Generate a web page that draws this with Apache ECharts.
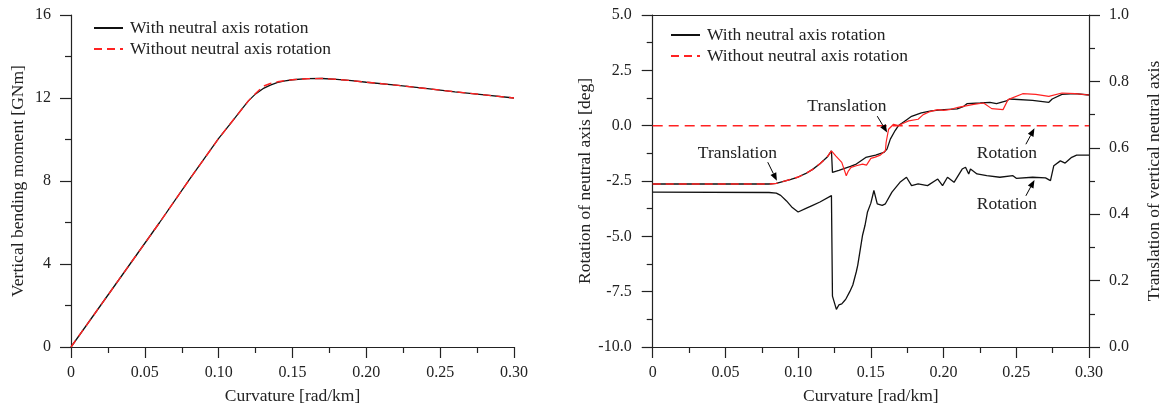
<!DOCTYPE html>
<html>
<head>
<meta charset="utf-8">
<script src="https://cdn.jsdelivr.net/npm/echarts@6/dist/echarts.min.js"></script>
<style>html,body{margin:0;padding:0;background:#fff;overflow:hidden}#c{width:1164px;height:410px}</style>
</head>
<body>
<div id="c"></div>
<script>
// ---------- Left chart: moment-curvature ----------
const momentKappa   = [0, 0.02, 0.04, 0.06, 0.08, 0.10, 0.11, 0.115, 0.12, 0.125, 0.13, 0.135, 0.14, 0.145, 0.15, 0.16, 0.17, 0.18, 0.19, 0.20, 0.22, 0.24, 0.26, 0.28, 0.30];
const momentWith    = [0, 2.0, 4.0, 6.0, 8.05, 10.05, 10.95, 11.4, 11.85, 12.2, 12.45, 12.62, 12.75, 12.83, 12.88, 12.93, 12.94, 12.9, 12.84, 12.76, 12.62, 12.46, 12.3, 12.15, 12.0];
const momentWithout = [0, 2.0, 4.0, 6.0, 8.05, 10.05, 10.95, 11.4, 11.85, 12.22, 12.56, 12.7, 12.78, 12.84, 12.88, 12.93, 12.94, 12.9, 12.84, 12.76, 12.62, 12.46, 12.3, 12.15, 12.0];

// ---------- Right chart: rotation [deg] (left axis) ----------
const rotKappa = [0, 0.08, 0.085, 0.088, 0.092, 0.096, 0.10, 0.105, 0.11, 0.115, 0.1229, 0.1236, 0.1263, 0.128, 0.13, 0.132, 0.1331, 0.1355, 0.1376, 0.14, 0.141, 0.1443, 0.146, 0.1477, 0.15, 0.1521, 0.1544, 0.1578, 0.16, 0.1645, 0.17, 0.1745, 0.178, 0.1825, 0.189, 0.196, 0.1993, 0.2027, 0.2072, 0.2128, 0.2151, 0.2173, 0.2185, 0.223, 0.2297, 0.2387, 0.2477, 0.25, 0.2612, 0.2701, 0.2735, 0.2758, 0.2803, 0.2836, 0.2881, 0.2915, 0.30];
const rotWith  = [-3.0, -3.02, -3.05, -3.15, -3.4, -3.7, -3.9, -3.75, -3.6, -3.45, -3.16, -7.7, -8.3, -8.1, -8.05, -7.9, -7.8, -7.5, -7.2, -6.6, -6.3, -4.95, -4.5, -3.9, -3.5, -2.93, -3.53, -3.6, -3.53, -3.0, -2.56, -2.33, -2.71, -2.63, -2.71, -2.41, -2.71, -2.33, -2.56, -1.96, -1.88, -2.18, -1.96, -2.18, -2.26, -2.33, -2.26, -2.38, -2.33, -2.36, -2.48, -1.81, -1.59, -1.69, -1.43, -1.33, -1.33];
const rotWithoutKappa = [0, 0.30];
const rotWithout = [0, 0];

// ---------- Right chart: translation [m] (right axis) ----------
const transKappa = [0, 0.08, 0.085, 0.09, 0.095, 0.10, 0.105, 0.11, 0.115, 0.12, 0.1229, 0.1236, 0.128, 0.132, 0.136, 0.14, 0.1465, 0.1533, 0.1589, 0.1611, 0.1634, 0.1667, 0.169, 0.1735, 0.178, 0.1847, 0.1915, 0.2004, 0.2094, 0.2139, 0.2161, 0.2252, 0.2319, 0.2364, 0.2432, 0.2455, 0.2612, 0.2724, 0.2747, 0.2814, 0.2904, 0.30];
const transWith  = [0.491, 0.491, 0.493, 0.499, 0.505, 0.512, 0.522, 0.535, 0.552, 0.572, 0.591, 0.526, 0.532, 0.538, 0.544, 0.551, 0.571, 0.578, 0.586, 0.596, 0.626, 0.652, 0.667, 0.681, 0.695, 0.705, 0.711, 0.715, 0.717, 0.725, 0.733, 0.735, 0.737, 0.733, 0.741, 0.747, 0.743, 0.737, 0.747, 0.761, 0.763, 0.759];
const transNoKappa = [0, 0.08, 0.085, 0.09, 0.095, 0.10, 0.105, 0.11, 0.115, 0.12, 0.1229, 0.126, 0.13, 0.1331, 0.1345, 0.1364, 0.14, 0.1443, 0.147, 0.15, 0.153, 0.1565, 0.16, 0.1605, 0.1622, 0.1656, 0.169, 0.1735, 0.176, 0.1825, 0.186, 0.19, 0.196, 0.20, 0.205, 0.21, 0.2207, 0.2275, 0.2331, 0.2409, 0.2443, 0.2544, 0.2634, 0.2724, 0.2814, 0.2904, 0.30];
const transWithout = [0.491, 0.491, 0.493, 0.499, 0.505, 0.512, 0.522, 0.535, 0.552, 0.572, 0.591, 0.575, 0.556, 0.516, 0.530, 0.541, 0.546, 0.551, 0.548, 0.568, 0.572, 0.578, 0.591, 0.616, 0.656, 0.671, 0.667, 0.676, 0.681, 0.686, 0.700, 0.708, 0.715, 0.713, 0.716, 0.722, 0.731, 0.735, 0.718, 0.715, 0.745, 0.763, 0.761, 0.755, 0.765, 0.763, 0.759];
const transNoSplit = 10; // index where red translation turns noisy (drawn solid)

// ---------- Tick labels / names ----------
const xName = 'Curvature [rad/km]';
const yNameLeft = 'Vertical bending moment [GNm]';
const yNameRot = 'Rotation of neutral axis [deg]';
const yNameTrans = 'Translation of vertical neutral axis';
const nameWith = 'With neutral axis rotation';
const nameWithout = 'Without neutral axis rotation';

// annotations: [text, textX, textY, arrowFromX, arrowFromY, arrowToX, arrowToY] in rotation-axis units
const annotations = [
  ['Translation', 0.0582, -1.24, 0.0791, -1.65, 0.0854, -2.49],
  ['Translation', 0.1335, 0.87, 0.1544, 0.43, 0.1612, -0.31],
  ['Rotation', 0.2436, -1.24, 0.2566, -0.84, 0.2625, -0.12],
  ['Rotation', 0.2436, -3.58, 0.2566, -3.17, 0.2625, -2.45]
];

const zip = (a, b) => a.map((v, i) => [v, b[i]]);
const BLACK = '#111';
const RED = '#ff2222';
const AX = '#222';
const NUMFONT = 'Liberation Serif';
const TXTFONT = 'Liberation Serif';

function xAxisCfg(gi) {
  return {
    type: 'value', gridIndex: gi, min: 0, max: 0.3, interval: 0.05,
    name: xName, nameLocation: 'middle', nameGap: 40,
    nameTextStyle: { fontFamily: TXTFONT, fontSize: 17.5, color: AX },
    axisLine: { onZero: false, lineStyle: { color: AX, width: 1.2 } },
    axisTick: { length: 11, lineStyle: { color: AX, width: 1.2 } },
    minorTick: { show: true, splitNumber: 2, length: 6, lineStyle: { color: AX, width: 1.2 } },
    axisLabel: { fontFamily: NUMFONT, fontSize: 16, color: AX, margin: 18,
      formatter: v => (Math.abs(v) < 1e-9 ? '0' : v.toFixed(2)) },
    splitLine: { show: false }
  };
}

function legendCfg(left, top) {
  return { orient: 'vertical', left: left, top: top, itemWidth: 29, itemHeight: 14, itemGap: 3,
    data: [nameWith, nameWithout], selectedMode: false,
    itemStyle: { opacity: 0 },
    textStyle: { fontFamily: TXTFONT, fontSize: 17.5, color: AX, padding: [0, 0, 0, 2] } };
}

const chart = echarts.init(document.getElementById('c'), null, { renderer: 'canvas', width: 1164, height: 410 });

const option = {
  backgroundColor: '#fff',
  animation: false,
  grid: [
    { left: 71, width: 443, top: 15, height: 332 },
    { left: 652.7, width: 444.8, top: 15, height: 334 }
  ],
  legend: [legendCfg(88, 14), legendCfg(665, 21)],
  xAxis: [
    xAxisCfg(0),
    xAxisCfg(1),
    { type: 'value', gridIndex: 1, position: 'top', min: 0, max: 0.3,
      axisLine: { show: true, onZero: false, lineStyle: { color: AX, width: 1.2 } },
      axisTick: { show: false }, axisLabel: { show: false }, splitLine: { show: false } }
  ],
  yAxis: [
    { type: 'value', gridIndex: 0, min: 0, max: 16, interval: 4,
      name: yNameLeft, nameLocation: 'middle', nameGap: 44,
      nameTextStyle: { fontFamily: TXTFONT, fontSize: 17.5, color: AX },
      axisLine: { show: true, onZero: false, lineStyle: { color: AX, width: 1.2 } },
      axisTick: { show: true, length: 11, lineStyle: { color: AX, width: 1.2 } },
      minorTick: { show: true, splitNumber: 2, length: 6, lineStyle: { color: AX, width: 1.2 } },
      axisLabel: { fontFamily: NUMFONT, fontSize: 16, color: AX, margin: 20 },
      splitLine: { show: false } },
    { type: 'value', gridIndex: 1, min: -10, max: 5, interval: 2.5,
      name: yNameRot, nameLocation: 'middle', nameGap: 58,
      nameTextStyle: { fontFamily: TXTFONT, fontSize: 17.5, color: AX },
      axisLine: { show: true, onZero: false, lineStyle: { color: AX, width: 1.2 } },
      axisTick: { show: true, length: 11, lineStyle: { color: AX, width: 1.2 } },
      minorTick: { show: true, splitNumber: 2, length: 6, lineStyle: { color: AX, width: 1.2 } },
      axisLabel: { fontFamily: NUMFONT, fontSize: 16, color: AX, margin: 21, formatter: v => v.toFixed(1) },
      splitLine: { show: false } },
    { type: 'value', gridIndex: 1, position: 'right', min: 0, max: 1, interval: 0.2,
      name: yNameTrans, nameLocation: 'middle', nameGap: 56, nameRotate: 90,
      nameTextStyle: { fontFamily: TXTFONT, fontSize: 17.5, color: AX },
      axisLine: { show: true, onZero: false, lineStyle: { color: AX, width: 1.2 } },
      axisTick: { show: true, length: 11, lineStyle: { color: AX, width: 1.2 } },
      minorTick: { show: true, splitNumber: 2, length: 6, lineStyle: { color: AX, width: 1.2 } },
      axisLabel: { fontFamily: NUMFONT, fontSize: 16, color: AX, margin: 20, formatter: v => v.toFixed(1) },
      splitLine: { show: false } }
  ],
  series: [
    { name: nameWith, type: 'line', xAxisIndex: 0, yAxisIndex: 0, showSymbol: false, symbol: 'none',
      data: zip(momentKappa, momentWith), lineStyle: { color: BLACK, width: 1.3 }, itemStyle: { color: BLACK }, z: 2 },
    { name: nameWithout, type: 'line', xAxisIndex: 0, yAxisIndex: 0, showSymbol: false, symbol: 'none',
      data: zip(momentKappa, momentWithout), lineStyle: { color: RED, width: 1.4, type: [8, 5] }, itemStyle: { color: RED }, z: 3 },
    // rotation
    { name: nameWith, type: 'line', xAxisIndex: 1, yAxisIndex: 1, showSymbol: false, symbol: 'none',
      data: zip(rotKappa, rotWith), lineStyle: { color: BLACK, width: 1.3 }, itemStyle: { color: BLACK }, z: 2 },
    { name: nameWithout, type: 'line', xAxisIndex: 1, yAxisIndex: 1, showSymbol: false, symbol: 'none',
      data: zip(rotWithoutKappa, rotWithout), lineStyle: { color: RED, width: 1.5, type: [10, 6] }, itemStyle: { color: RED }, z: 3 },
    // translation
    { name: nameWith, type: 'line', xAxisIndex: 1, yAxisIndex: 2, showSymbol: false, symbol: 'none',
      data: zip(transKappa, transWith), lineStyle: { color: BLACK, width: 1.3 }, itemStyle: { color: BLACK }, z: 2 },
    { name: nameWithout, type: 'line', xAxisIndex: 1, yAxisIndex: 2, showSymbol: false, symbol: 'none',
      data: zip(transNoKappa, transWithout).slice(0, transNoSplit + 1), lineStyle: { color: RED, width: 1.4, type: [8, 5] }, itemStyle: { color: RED }, z: 3 },
    { name: nameWithout, type: 'line', xAxisIndex: 1, yAxisIndex: 2, showSymbol: false, symbol: 'none',
      data: zip(transNoKappa, transWithout).slice(transNoSplit), lineStyle: { color: RED, width: 1.2 }, itemStyle: { color: RED }, z: 3 }
  ]
};
chart.setOption(option);

// annotations placed through the chart's own coordinate conversion
const graphics = [];
annotations.forEach(a => {
  const f = { xAxisIndex: 1, yAxisIndex: 1 };
  const t = chart.convertToPixel(f, [a[1], a[2]]);
  const p0 = chart.convertToPixel(f, [a[3], a[4]]);
  const p1 = chart.convertToPixel(f, [a[5], a[6]]);
  graphics.push({ type: 'text', x: t[0], y: t[1], z: 10,
    style: { text: a[0], fontFamily: TXTFONT, fontSize: 17.5, fill: AX, align: 'center', verticalAlign: 'middle' } });
  const dx = p1[0] - p0[0], dy = p1[1] - p0[1];
  const L = Math.hypot(dx, dy), ux = dx / L, uy = dy / L;
  const hl = 8, hw = 3.2;
  const bx = p1[0] - ux * hl, by = p1[1] - uy * hl;
  graphics.push({ type: 'line', z: 10, shape: { x1: p0[0], y1: p0[1], x2: bx, y2: by }, style: { stroke: '#000', lineWidth: 1 } });
  graphics.push({ type: 'polygon', z: 10, shape: { points: [[p1[0], p1[1]], [bx - uy * hw, by + ux * hw], [bx + uy * hw, by - ux * hw]] }, style: { fill: '#000' } });
});
chart.setOption({ graphic: graphics });
</script>
</body>
</html>
